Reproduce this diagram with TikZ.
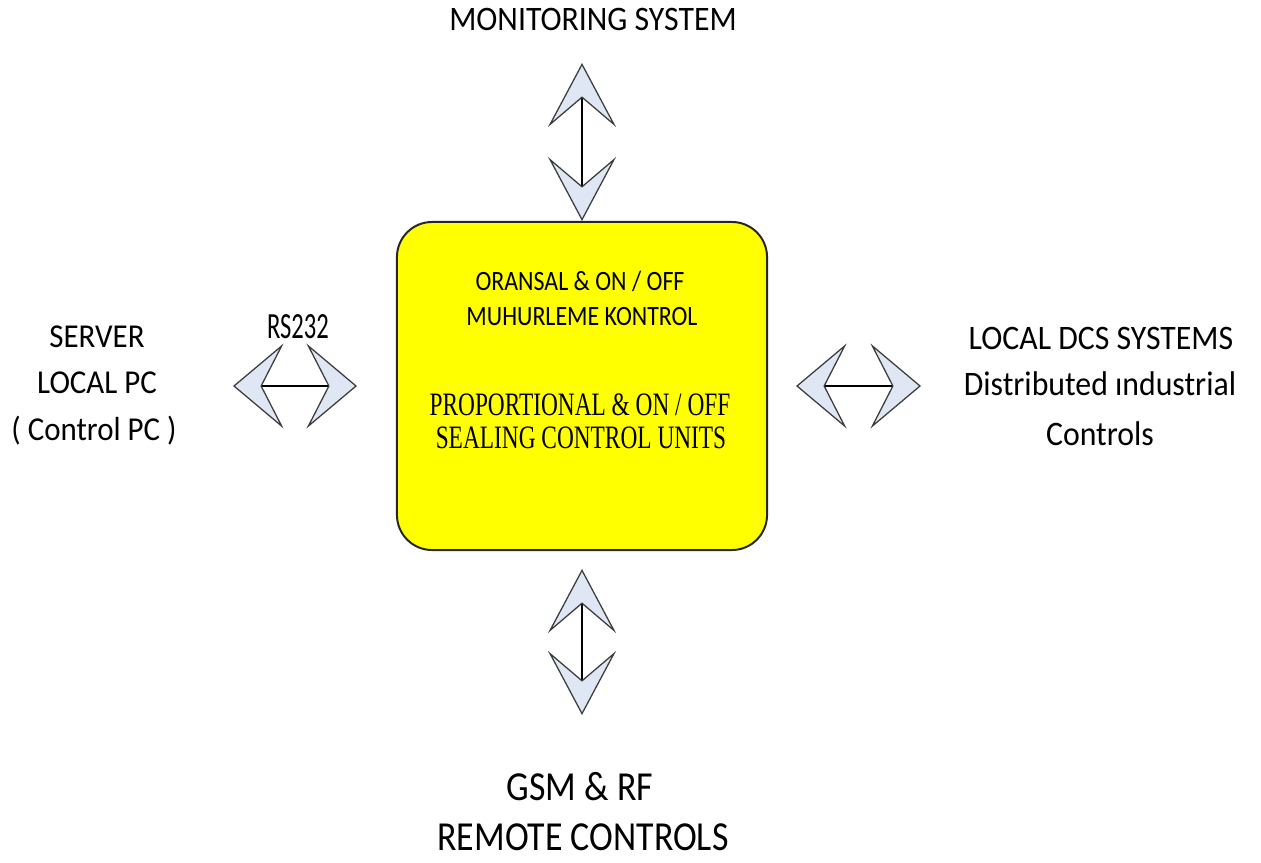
\documentclass[tikz,border=0pt]{standalone}
\usepackage{fontspec}
\setmainfont{Carlito}
\newfontfamily\timesfont{Liberation Serif}
\usepackage{tikz}
\usetikzlibrary{arrows.meta}
\usepackage{xcolor}
\definecolor{headfill}{RGB}{222,231,243}
\definecolor{headline}{RGB}{60,60,60}
\definecolor{boxyellow}{RGB}{255,255,0}

\tikzset{
  vdbl/.style={black, line width=1pt,
    {Stealth[length=45.5pt, width=48.4pt, inset=20.6pt, fill=headfill, color=headline, line width=0.9pt]}-{Stealth[length=45.5pt, width=48.4pt, inset=20.6pt, fill=headfill, color=headline, line width=0.9pt]}},
  hdbl/.style={black, line width=1pt,
    {Stealth[length=36pt, width=60.5pt, inset=15.5pt, fill=headfill, color=headline, line width=0.9pt]}-{Stealth[length=36pt, width=60.5pt, inset=15.5pt, fill=headfill, color=headline, line width=0.9pt]}},
  calib/.style={anchor=base, inner sep=0pt, font=\fontsize{22}{26}\selectfont},
  intext/.style={anchor=base, inner sep=0pt, font=\fontsize{17}{20}\selectfont},
  timestext/.style={anchor=base, inner sep=0pt, font=\timesfont\fontsize{16.6}{20}\selectfont}
}

\begin{document}
\begin{tikzpicture}[x=0.025cm, y=-0.025cm]
  \useasboundingbox (0,0) rectangle (1261,862);

  %%%%%%% CENTRAL UNIT
  \node[draw=black!85, line width=1.4pt, fill=boxyellow, rounded corners=25pt,
        minimum width=263.2pt, minimum height=233.3pt] (ctrl) at (582,386) {};
  \node[intext] (ora) at (580,290) {\scalebox{1}[1.17]{ORANSAL \& ON / OFF}};
  \node[intext] (muh) at (582,325) {\scalebox{1}[1.17]{MUHURLEME KONTROL}};
  \node[timestext] (prop) at (580,415) {\scalebox{1}[1.4]{PROPORTIONAL \& ON / OFF}};
  \node[timestext] (seal) at (581,448) {\scalebox{1}[1.4]{SEALING CONTROL UNITS}};

  %%%%%%% OUTER LABELS
  \node[calib, font=\fontsize{22.6}{26}\selectfont] (mon) at (593,30) {\scalebox{1}[1.08]{MONITORING SYSTEM}};

  \node[calib] (srv1) at (97,347) {\scalebox{1}[1.08]{SERVER}};
  \node[calib] (srv2) at (97,393) {\scalebox{1}[1.08]{LOCAL PC}};
  \node[calib] (srv3) at (94,440) {\scalebox{1}[1.08]{( Control PC )}};
  \node[anchor=base, inner sep=0pt, font=\fontsize{17.5}{20}\selectfont] (rs) at (298,338) {\scalebox{1}[1.5]{RS232}};

  \node[calib, font=\fontsize{22.6}{26}\selectfont] (dcs1) at (1101,349) {\scalebox{1}[1.08]{LOCAL DCS SYSTEMS}};
  \node[calib, font=\fontsize{22.6}{26}\selectfont] (dcs2) at (1100,395) {\scalebox{1}[1.08]{Distributed ındustrial}};
  \node[calib, font=\fontsize{22.6}{26}\selectfont] (dcs3) at (1100,445) {\scalebox{1}[1.08]{Controls}};

  \node[calib, font=\fontsize{25.5}{30}\selectfont] (gsm1) at (580,800) {\scalebox{1}[1.15]{GSM \& RF}};
  \node[calib, font=\fontsize{25.5}{30}\selectfont] (gsm2) at (583,850) {\scalebox{1}[1.15]{REMOTE CONTROLS}};

  %%%%%%% DOUBLE ARROWS
  \coordinate (upend) at (582,63);
  \coordinate (downend) at (582,715);
  \coordinate (leftend) at (233,386);
  \coordinate (rightend) at (921,386);
  \draw[vdbl] (upend) -- (ctrl.north);
  \draw[vdbl, shorten <=12.8pt] (ctrl.south) -- (downend);
  \draw[hdbl, shorten >=27.7pt] (leftend) -- (ctrl.west);
  \draw[hdbl, shorten <=19.9pt] (ctrl.east) -- (rightend);
\end{tikzpicture}
\end{document}
